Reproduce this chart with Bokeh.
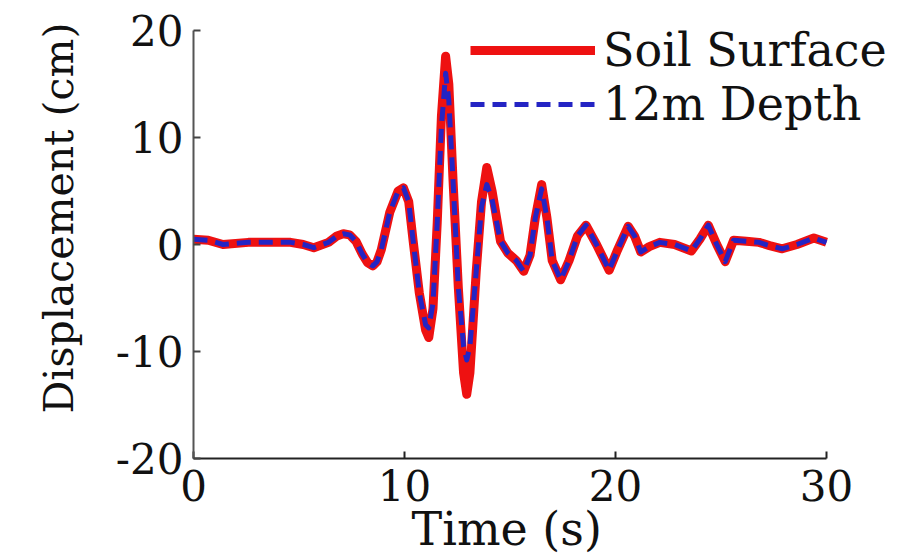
from bokeh.plotting import figure
from bokeh.models import Range1d, FixedTicker, Legend, LegendItem, Title
from bokeh.embed import file_html
from bokeh.resources import INLINE

# ---- data ----
time_s = [0.0, 0.7, 1.4, 2.6, 3.6, 4.6, 5.2, 5.7, 6.4, 6.8, 7.1, 7.4, 7.7, 8.0, 8.25,
          8.5, 8.7, 8.9, 9.3, 9.7, 9.95, 10.2, 10.4, 10.7, 11.0, 11.15, 11.35, 11.55,
          11.75, 11.95, 12.1, 12.3, 12.55, 12.8, 12.95, 13.1, 13.4, 13.65, 13.9, 14.15,
          14.55, 14.9, 15.3, 15.65, 15.95, 16.2, 16.5, 16.75, 17.0, 17.4, 17.8,
          18.2, 18.6, 19.1, 19.7, 20.1, 20.6, 20.9, 21.2, 21.6, 22.1, 22.8, 23.6,
          24.0, 24.4, 24.8, 25.2, 25.6, 26.2, 26.8, 27.3, 27.9, 28.6, 29.4, 30.0]

soil_surface = [0.5, 0.4, 0.0, 0.2, 0.2, 0.2, 0.0, -0.3, 0.2, 0.8, 1.0, 0.9, 0.3, -0.9, -1.7,
                -2.0, -1.6, -0.5, 3.0, 5.0, 5.3, 4.0, 0.5, -4.5, -8.0, -8.7, -6.0, 2.0,
                12.0, 17.6, 15.0, 6.0, -4.0, -12.0, -14.0, -12.0, -2.5, 4.0, 7.2, 5.0,
                0.3, -0.8, -1.5, -2.5, -1.0, 2.5, 5.6, 2.5, -1.5, -3.3, -1.5,
                0.8, 1.8, 0.0, -2.4, -0.5, 1.7, 0.8, -0.7, -0.2, 0.2, 0.0, -0.6,
                0.5, 1.8, 0.0, -1.6, 0.4, 0.3, 0.2, -0.1, -0.4, 0.0, 0.6, 0.2]

depth_12m = [0.5, 0.4, 0.0, 0.2, 0.2, 0.2, 0.0, -0.3, 0.2, 0.8, 1.0, 0.9, 0.3, -0.9, -1.7,
             -2.0, -1.6, -0.5, 3.0, 5.0, 5.3, 4.0, 0.5, -4.5, -7.5, -7.8, -5.5, 2.0,
             11.0, 16.0, 13.5, 6.0, -4.0, -9.5, -10.8, -9.5, -2.5, 3.5, 5.6, 4.2,
             0.3, -0.8, -1.5, -2.5, -1.0, 2.5, 5.2, 2.5, -1.5, -3.3, -1.5,
             0.8, 1.8, 0.0, -2.4, -0.5, 1.7, 0.8, -0.7, -0.2, 0.2, 0.0, -0.6,
             0.5, 1.8, 0.0, -1.6, 0.4, 0.3, 0.2, -0.1, -0.4, 0.0, 0.6, 0.2]

x_ticks = [0, 10, 20, 30]
y_ticks = [-20, -10, 0, 10, 20]
y_tick_labels = {-20: "-20", -10: "-10", 0: "0", 10: "10", 20: "20"}
series_labels = ["Soil Surface", "12m Depth"]

FONT = "DejaVu Serif"

# frame spans x 193..916 px and y 0..458 px; the drawn axes end at t=30 and d=20
x_end = 30 * 723 / 633
y_end = 20 + 30 * 40 / 428

p = figure(width=916, height=555, output_backend="svg", toolbar_location=None,
           x_range=Range1d(0, x_end), y_range=Range1d(-20, y_end),
           min_border_left=193, min_border_right=0,
           min_border_top=0, min_border_bottom=97)

p.background_fill_color = "white"
p.border_fill_color = "white"
p.outline_line_color = None
p.xgrid.visible = False
p.ygrid.visible = False

r1 = p.line(time_s, soil_surface, line_color="#ee1111", line_width=9,
            line_join="round")
r2 = p.line(time_s, depth_12m, line_color="#2424c4", line_width=5, line_dash="14 8",
            line_join="round")

for ax in (p.xaxis[0], p.yaxis[0]):
    ax.axis_line_width = 2
    ax.major_tick_line_width = 2
    ax.major_tick_in = 7
    ax.major_tick_out = 0
    ax.minor_tick_line_color = None
    ax.major_label_text_font = FONT
    ax.major_label_text_font_size = "42px"
    ax.major_label_text_color = "#111111"

p.xaxis.axis_line_color = "#222222"
p.xaxis.major_tick_line_color = "#222222"
p.yaxis.axis_line_color = "#555555"
p.yaxis.major_tick_line_color = "#444444"

p.xaxis.ticker = FixedTicker(ticks=x_ticks)
p.xaxis.bounds = (0, 30)
p.xaxis.major_label_standoff = 11
p.yaxis.ticker = FixedTicker(ticks=y_ticks)
p.yaxis.bounds = (-20, 20)
p.yaxis.major_label_overrides = y_tick_labels
p.yaxis.major_label_standoff = 10

ytitle = Title(text="Displacement (cm)", align="left", offset=45, standoff=60,
               text_font=FONT, text_font_size="41px", text_font_style="normal",
               text_color="#111111")
p.add_layout(ytitle, "left")

xtitle = Title(text="Time (s)", align="left", offset=218, standoff=-7,
               text_font=FONT, text_font_size="46px", text_font_style="normal",
               text_color="#111111")
p.add_layout(xtitle, "below")

legend = Legend(items=[LegendItem(label=series_labels[0], renderers=[r1]),
                       LegendItem(label=series_labels[1], renderers=[r2])],
                location=(277, 327), glyph_width=125, glyph_height=52,
                label_height=52, spacing=0, padding=0, margin=0,
                label_standoff=8, border_line_alpha=0, background_fill_alpha=0,
                label_text_font=FONT, label_text_font_size="46px",
                label_text_color="#111111")
p.add_layout(legend)

open("out.html", "w").write(file_html(p, INLINE))
